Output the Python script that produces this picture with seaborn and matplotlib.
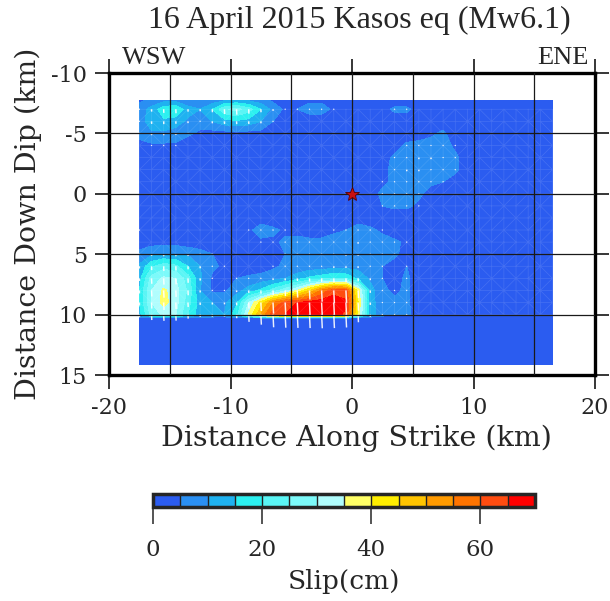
import numpy as np
import matplotlib
matplotlib.use("Agg")
import matplotlib.pyplot as plt
import matplotlib.tri as mtri
import seaborn as sns

# node positions of the slip grid (km)
strike_km = [-17.5, -16.5, -15.5, -14.5, -13.5, -12.5, -11.5, -10.5, -9.5, -8.5,
             -7.5, -6.5, -5.5, -4.5, -3.5, -2.5, -1.5, -0.5, 0.5, 1.5,
             2.5, 3.5, 4.5, 5.5, 6.5, 7.5, 8.5, 9.5, 10.5, 11.5,
             12.5, 13.5, 14.5, 15.5, 16.5]
dip_km = [-7.75, -7, -6, -5, -4, -3, -2, -1, 0, 1, 2, 3, 4, 5, 6, 7, 8, 9, 10, 10.3, 14.1]

# slip (cm), one row per down-dip node
slip_cm = [
    [4, 6, 8, 8, 6, 5, 7, 9, 10, 9, 7, 4, 2, 3, 4, 4, 3, 2, 2, 2, 2, 2, 2, 2, 2, 2, 2, 2, 2, 2, 2, 2, 2, 2, 2],
    [7, 12, 18, 20, 12, 10, 15, 24, 27, 22, 15, 8, 4, 5, 7, 7, 4, 3, 2, 2, 3, 6, 6, 3, 2, 2, 2, 2, 2, 2, 2, 2, 2, 2, 2],
    [7, 13, 14, 12, 9, 7, 10, 13, 14, 13, 10, 5, 3, 2, 2, 2, 2, 2, 2, 2, 2, 2, 2, 2, 2, 2, 2, 2, 2, 2, 2, 2, 2, 2, 2],
    [7, 9, 9, 8, 6, 4, 3, 3, 3, 3, 3, 2, 2, 2, 2, 2, 2, 2, 2, 2, 2, 2, 2, 2, 4, 6, 2, 2, 2, 2, 2, 2, 2, 2, 2],
    [3, 4, 4, 4, 2, 2, 2, 2, 2, 2, 2, 2, 2, 2, 2, 2, 2, 2, 2, 2, 2, 3, 6, 7, 7, 7, 4, 2, 2, 2, 2, 2, 2, 2, 2],
    [2, 2, 2, 2, 2, 2, 2, 2, 2, 2, 2, 2, 2, 2, 2, 2, 2, 2, 2, 2, 3, 6, 7, 8, 8, 7, 6, 2, 2, 2, 2, 2, 2, 2, 2],
    [2, 2, 2, 2, 2, 2, 2, 2, 2, 2, 2, 2, 2, 2, 2, 2, 2, 2, 2, 2, 3, 7, 8, 8, 7, 7, 6, 2, 2, 2, 2, 2, 2, 2, 2],
    [2, 2, 2, 2, 2, 2, 2, 2, 2, 2, 2, 2, 2, 2, 2, 2, 2, 2, 2, 2, 4, 6, 7, 7, 6, 5, 3, 2, 2, 2, 2, 2, 2, 2, 2],
    [2, 2, 2, 2, 2, 2, 2, 2, 2, 2, 2, 2, 2, 2, 2, 2, 2, 2, 2, 3, 6, 7, 7, 6, 3, 2, 2, 2, 2, 2, 2, 2, 2, 2, 2],
    [2, 2, 2, 2, 2, 2, 2, 2, 2, 2, 2, 2, 2, 2, 2, 2, 2, 2, 2, 3, 5, 6, 6, 4, 2, 2, 2, 2, 2, 2, 2, 2, 2, 2, 2],
    [2, 2, 2, 2, 2, 2, 2, 2, 2, 2, 3, 2, 2, 2, 2, 2, 2, 2, 3, 2, 2, 2, 2, 2, 2, 2, 2, 2, 2, 2, 2, 2, 2, 2, 2],
    [5, 2, 2, 2, 2, 2, 2, 2, 2, 4, 7, 6, 4, 3, 3, 3, 4, 5, 7, 6, 4, 2, 2, 2, 2, 2, 2, 2, 2, 2, 2, 2, 2, 2, 2],
    [3, 3, 3, 3, 2, 2, 2, 2, 2, 2, 4, 4, 6, 7, 6, 6, 7, 7, 8, 7, 7, 6, 4, 2, 2, 2, 2, 2, 2, 2, 2, 2, 2, 2, 2],
    [6, 9, 10, 10, 9, 7, 5, 3, 2, 2, 2, 3, 5, 6, 7, 6, 7, 8, 8, 7, 6, 6, 3, 2, 2, 2, 2, 2, 2, 2, 2, 2, 2, 2, 2],
    [11, 19, 23, 21, 15, 10, 6, 4, 2, 2, 2, 4, 6, 6, 7, 7, 8, 8, 8, 7, 5, 3, 5, 2, 2, 2, 2, 2, 2, 2, 2, 2, 2, 2, 2],
    [13, 27, 31, 30, 22, 11, 4, 3, 5, 6, 7, 8, 10, 13, 16, 18, 20, 19, 14, 9, 5, 3, 6, 2, 2, 2, 2, 2, 2, 2, 2, 2, 2, 2, 2],
    [15, 30, 36, 32, 24, 10, 4, 4, 8, 12, 16, 22, 28, 35, 45, 56, 63, 62, 38, 12, 6, 4, 6, 2, 2, 2, 2, 2, 2, 2, 2, 2, 2, 2, 2],
    [15, 30, 37, 32, 22, 12, 10, 9, 14, 30, 42, 55, 62, 65, 67, 68, 68, 66, 40, 12, 7, 6, 6, 2, 2, 2, 2, 2, 2, 2, 2, 2, 2, 2, 2],
    [13, 27, 31, 30, 20, 12, 11, 10, 18, 36, 50, 63, 65, 66, 67, 68, 67, 64, 38, 12, 7, 6, 6, 3, 2, 2, 2, 2, 2, 2, 2, 2, 2, 2, 2],
    [2, 2, 2, 2, 2, 2, 2, 2, 2, 2, 2, 2, 2, 2, 2, 2, 2, 2, 2, 2, 2, 2, 2, 2, 2, 2, 2, 2, 2, 2, 2, 2, 2, 2, 2],
    [2, 2, 2, 2, 2, 2, 2, 2, 2, 2, 2, 2, 2, 2, 2, 2, 2, 2, 2, 2, 2, 2, 2, 2, 2, 2, 2, 2, 2, 2, 2, 2, 2, 2, 2],
]

slip_levels = [0, 5, 10, 15, 20, 25, 30, 35, 40, 45, 50, 55, 60, 65, 70]
slip_colors = ['#2b5cf0', '#2a8ff2', '#1fb2f0', '#2cf0f0', '#5af5f5', '#7cfafa', '#b0fdfd',
               '#ffff66', '#ffee00', '#ffc400', '#ff9a00', '#ff7400', '#ff4c10', '#ff0000']
cbar_ticks = [0, 20, 40, 60]
x_ticks = [-20, -10, 0, 10, 20]
y_ticks = [-10, -5, 0, 5, 10, 15]
grid_x = [-15, -10, -5, 0, 5, 10, 15]
grid_y = [-5, 0, 5, 10]
hypo_x, hypo_y = 0, 0

sns.set_style("ticks")
plt.rcParams['font.family'] = ['DejaVu Serif']
plt.rcParams['axes.linewidth'] = 2.2
plt.rcParams['axes.unicode_minus'] = False

X, Y = np.meshgrid(strike_km, dip_km)
S = np.array(slip_cm, dtype=float)

fig = plt.figure(figsize=(6.1, 6.01), dpi=100)
ax = fig.add_axes([109 / 610, 226 / 601, 486 / 610, 302 / 601])
cax = fig.add_axes([153 / 610, 94 / 601, 382 / 610, 13 / 601])

cs = ax.contourf(X, Y, S, levels=slip_levels, colors=slip_colors, zorder=1)

# integer down-dip rows = subfault rows
rows = [i for i, d in enumerate(dip_km) if float(d).is_integer()]

# faint triangular fault mesh on the subfault nodes
Xm, Ym = X[rows], Y[rows]
tri = mtri.Triangulation(Xm.ravel(), Ym.ravel())
ax.triplot(tri, color='white', lw=0.5, alpha=0.12, zorder=1.5)

# slip vectors
qx, qy, qv = [], [], []
for i in rows:
    for j, s in enumerate(strike_km):
        if S[i, j] >= 4:
            qx.append(s)
            qy.append(dip_km[i])
            qv.append(S[i, j])
qv = np.array(qv)
ax.quiver(qx, qy, qv * 0.0008, qv / 60.0, angles='xy', scale_units='xy', scale=1,
          color='white', width=0.003, headwidth=0, headlength=0, headaxislength=0,
          zorder=2, alpha=0.9)

for gx in grid_x:
    ax.axvline(gx, color='#1a1a1a', lw=0.9, zorder=3)
for gy in grid_y:
    ax.axhline(gy, color='#1a1a1a', lw=0.9, zorder=3)

ax.plot(hypo_x, hypo_y, marker='*', ms=10, color='#c81010', mec='#5a0000', mew=0.6, zorder=4)

ax.set_xlim(-20, 20)
ax.set_ylim(15, -10)
ax.set_xticks(x_ticks)
ax.set_yticks(y_ticks)
ax.tick_params(direction='out', length=10, width=1.1, top=True, right=True,
               labeltop=False, labelright=False, labelsize=16, pad=6, color='black')
for sp in ax.spines.values():
    sp.set_color('black')
    sp.set_linewidth(2.4)

ax.set_xlabel('Distance Along Strike (km)', fontsize=20.5, va='center')
ax.xaxis.set_label_coords(0.51, -0.21)
ax.set_ylabel('Distance Down Dip (km)', fontsize=20.5, va='center')
ax.yaxis.set_label_coords(-0.165, 0.5)

fig.text(359 / 610, 1 - 20 / 601, '16 April 2015 Kasos eq (Mw6.1)', ha='center', va='center',
         fontsize=23, family='Liberation Serif')
fig.text(122 / 610, 1 - 58 / 601, 'WSW', ha='left', va='center', fontsize=19, family='Liberation Serif')
fig.text(589 / 610, 1 - 58 / 601, 'ENE', ha='right', va='center', fontsize=19, family='Liberation Serif')

cb = fig.colorbar(cs, cax=cax, orientation='horizontal', ticks=cbar_ticks, drawedges=True)
cb.outline.set_linewidth(2.5)
cb.dividers.set_linewidth(1.0)
cb.dividers.set_color('#222222')
cax.tick_params(direction='out', length=12, width=1.1, labelsize=16.5, pad=11)
cb.set_label('Slip(cm)', fontsize=19, labelpad=6)

fig.savefig('out.png', dpi=100)
